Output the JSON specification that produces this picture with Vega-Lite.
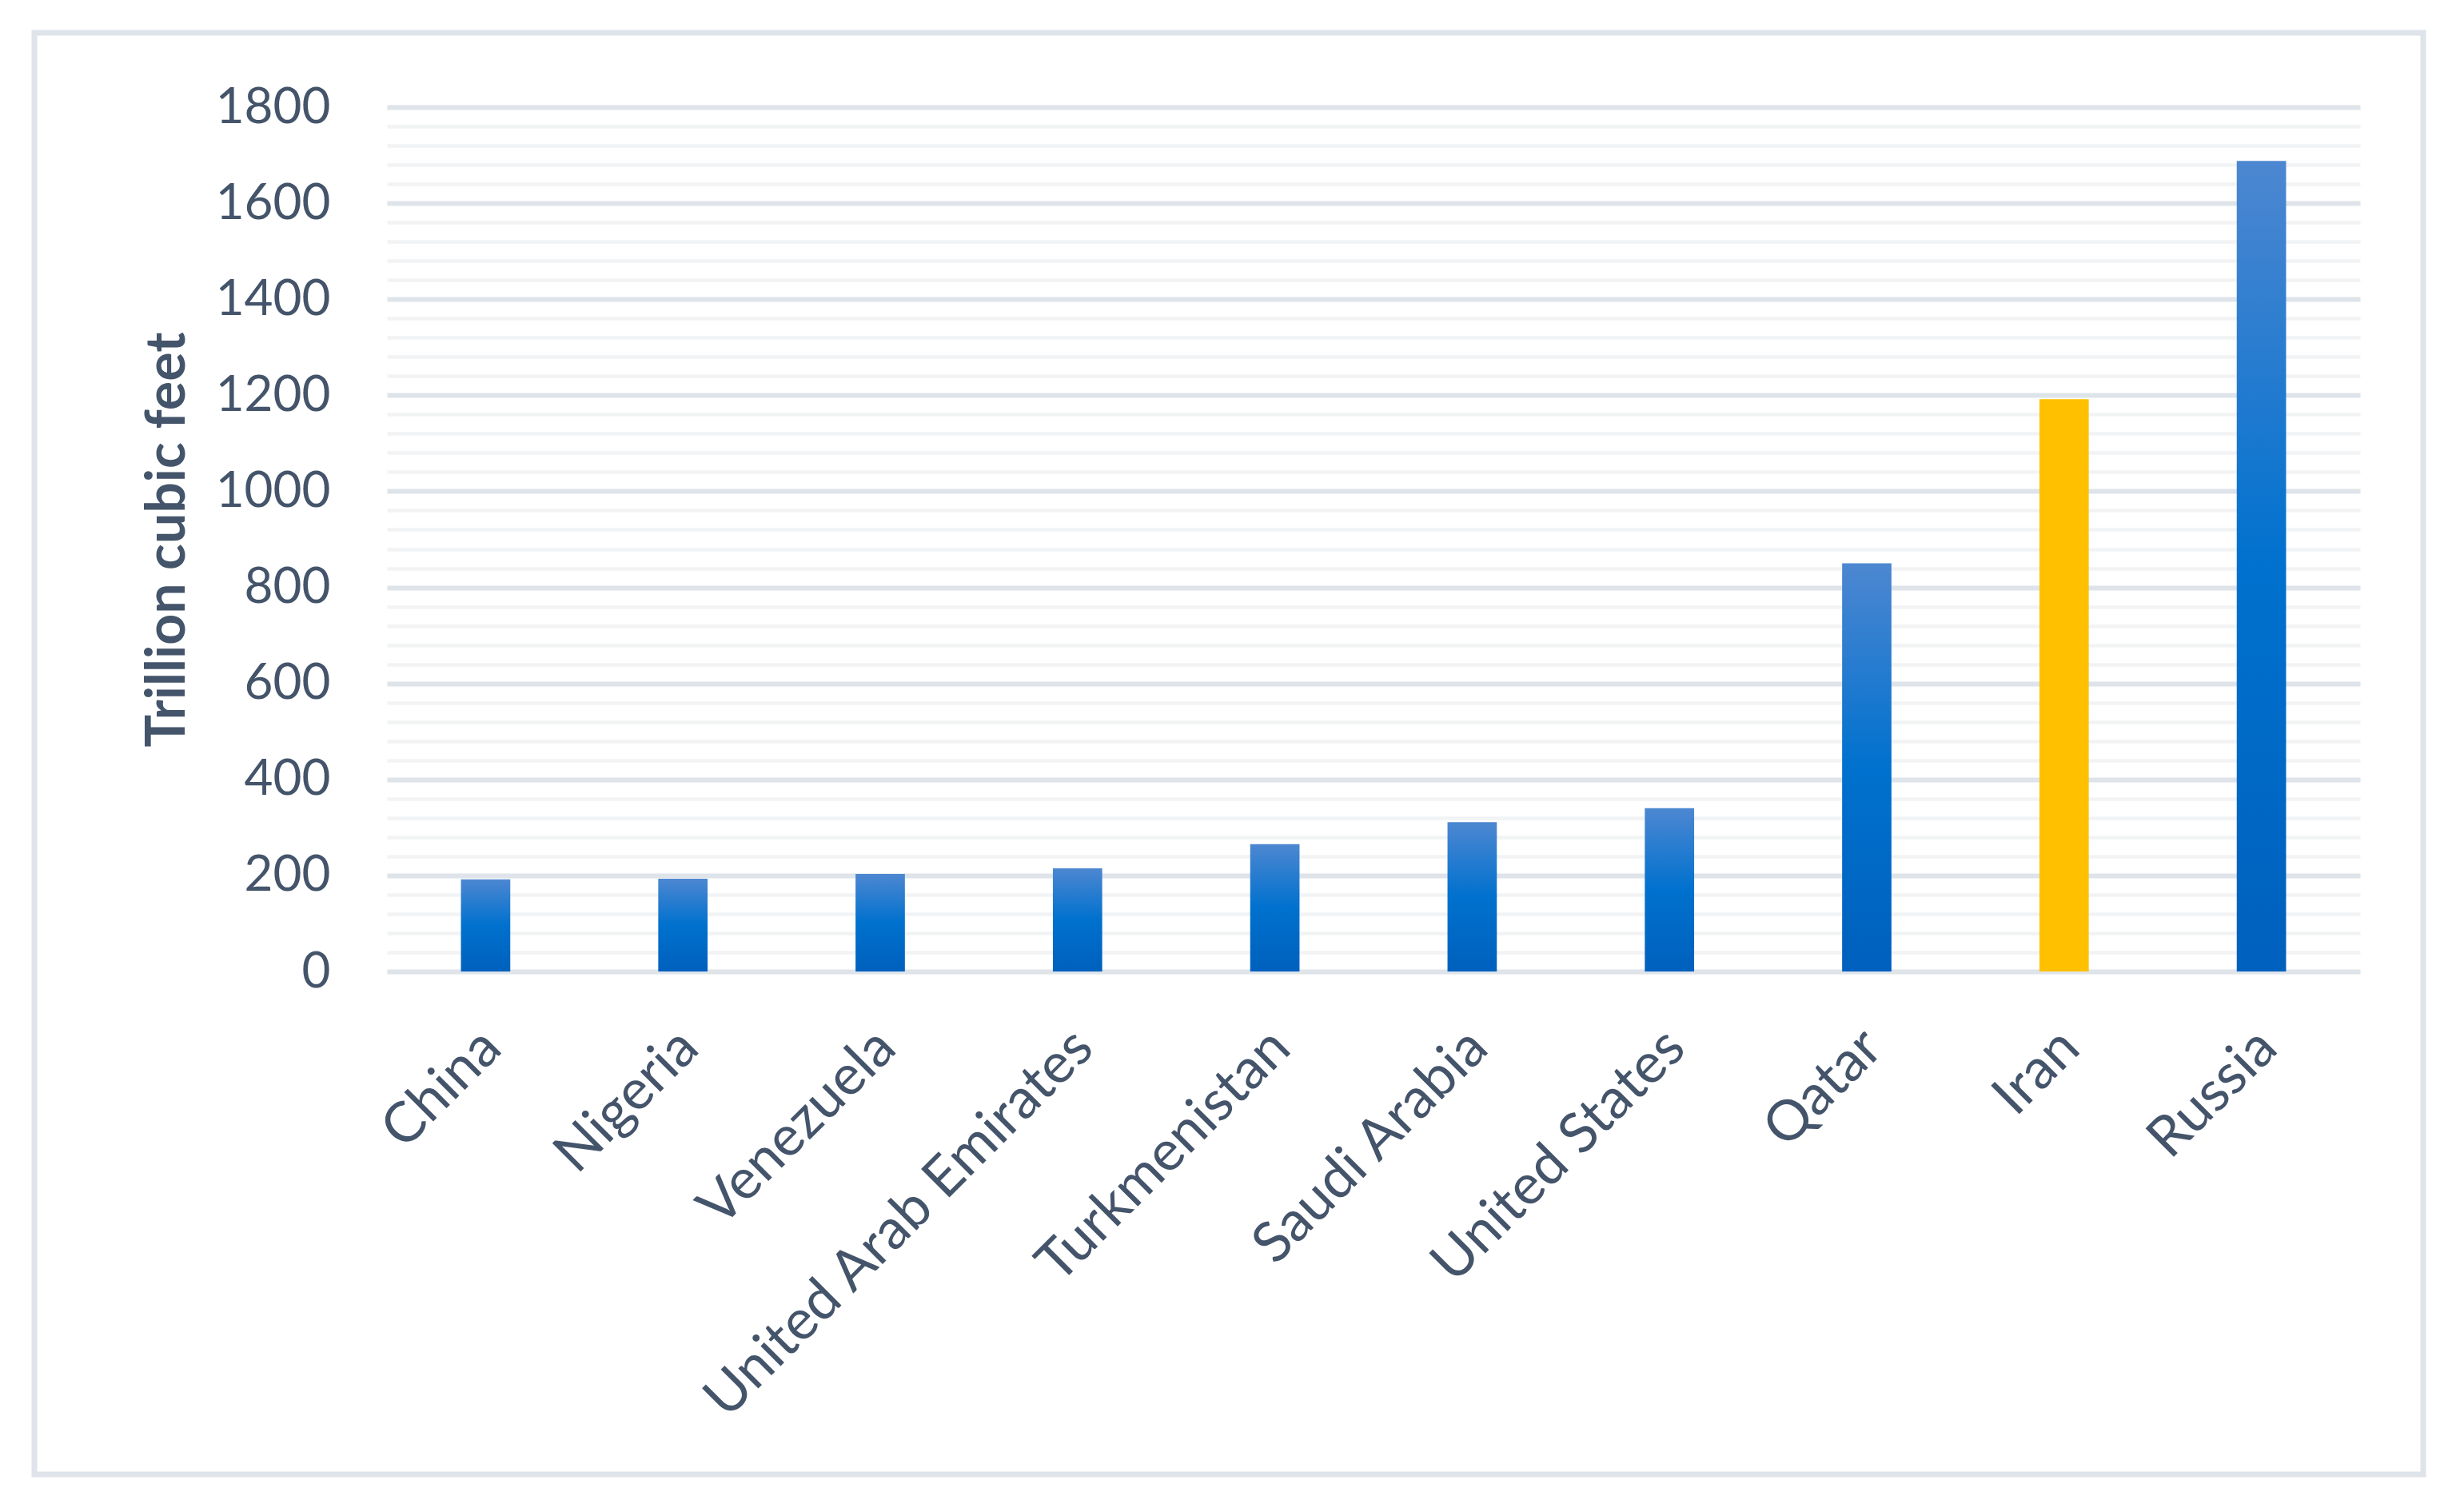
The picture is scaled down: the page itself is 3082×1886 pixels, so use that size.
{
  "$schema": "https://vega.github.io/schema/vega-lite/v6.json",
  "autosize": "none",
  "width": 2988,
  "height": 1803,
  "padding": {"left": 43, "top": 41, "right": 51, "bottom": 42},
  "background": "#FFFFFF",
  "config": {
    "view": {"stroke": "#DEE4EA", "strokeWidth": 7, "fill": "#FFFFFF"},
    "font": "Lato"
  },
  "data": {
    "values": [
      {"country": "China", "value": 192},
      {"country": "Nigeria", "value": 193},
      {"country": "Venezuela", "value": 203},
      {"country": "United Arab Emirates", "value": 215},
      {"country": "Turkmenistan", "value": 265},
      {"country": "Saudi Arabia", "value": 311},
      {"country": "United States", "value": 340},
      {"country": "Qatar", "value": 850},
      {"country": "Iran", "value": 1192},
      {"country": "Russia", "value": 1688}
    ]
  },
  "mark": {"type": "bar"},
  "encoding": {
    "x": {
      "field": "country",
      "type": "nominal",
      "sort": null,
      "scale": {"range": [441, 2909], "paddingInner": 0.75, "paddingOuter": 0.375},
      "axis": {
        "title": null,
        "orient": "bottom",
        "offset": -629,
        "domain": false,
        "ticks": false,
        "grid": false,
        "labelAngle": -45,
        "labelFont": "Lato",
        "labelFontSize": 70,
        "labelColor": "#44546A",
        "labelPadding": 60,
        "labelOffset": -16,
        "labelLimit": 2000,
        "labelOverlap": false
      }
    },
    "y": {
      "field": "value",
      "type": "quantitative",
      "scale": {"domain": [0, 1800], "range": [1174, 93], "nice": false},
      "axis": {
        "title": "Trillion cubic feet",
        "titleFont": "Lato",
        "titleFontSize": 68,
        "titleFontWeight": "bold",
        "titleColor": "#44546A",
        "titlePadding": 40,
        "offset": -441,
        "domain": false,
        "ticks": false,
        "grid": true,
        "values": [0,40,80,120,160,200,240,280,320,360,400,440,480,520,560,600,640,680,720,760,800,840,880,920,960,1000,1040,1080,1120,1160,1200,1240,1280,1320,1360,1400,1440,1480,1520,1560,1600,1640,1680,1720,1760,1800],
        "format": "d",
        "labelExpr": "datum.value % 200 === 0 ? datum.label : ''",
        "gridColor": {"condition": {"test": "datum.value % 200 === 0", "value": "#DEE4EA"}, "value": "#F2F3F5"},
        "gridWidth": {"condition": {"test": "datum.value % 200 === 0", "value": 6}, "value": 4.5},
        "labelFont": "Lato",
        "labelFontSize": 62,
        "labelColor": "#44546A",
        "labelPadding": 71,
        "labelOverlap": false
      }
    },
    "color": {
      "condition": {"test": "datum.country === 'Iran'", "value": "#FFC000"},
      "value": {
        "gradient": "linear",
        "x1": 0, "y1": 0, "x2": 0, "y2": 1,
        "stops": [
          {"offset": 0, "color": "#4D87D1"},
          {"offset": 0.5, "color": "#0071CE"},
          {"offset": 1, "color": "#0060BD"}
        ]
      }
    }
  }
}
